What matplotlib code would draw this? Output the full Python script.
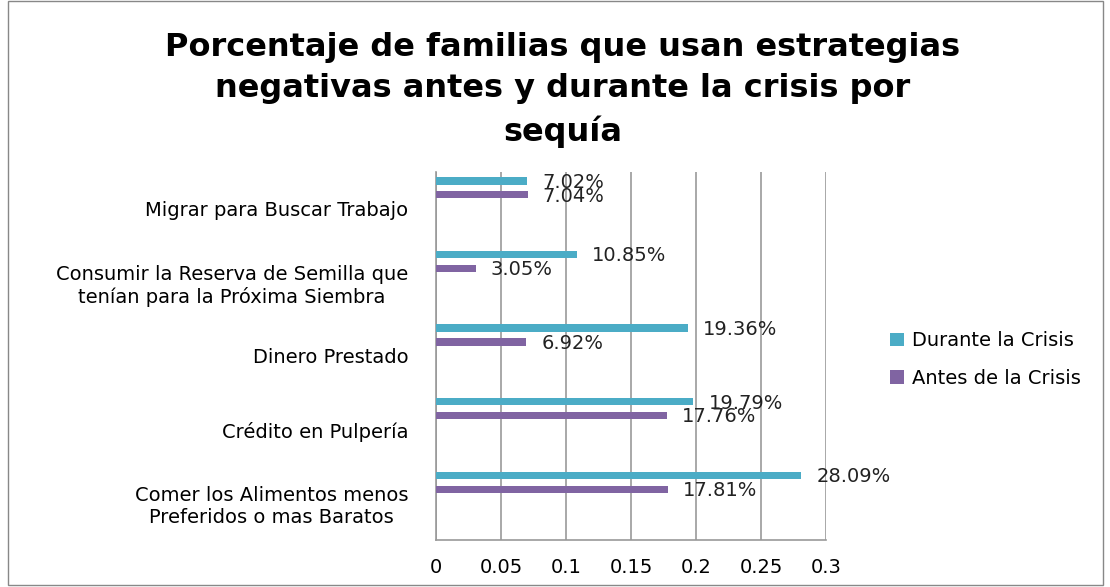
import matplotlib.pyplot as plt
import matplotlib.patches as mpatches
import numpy as np

# data (bottom to top)
categories = [
    "Comer los Alimentos menos\nPreferidos o mas Baratos",
    "Crédito en Pulpería",
    "Dinero Prestado",
    "Consumir la Reserva de Semilla que\ntenían para la Próxima Siembra",
    "Migrar para Buscar Trabajo",
]
durante = [0.2809, 0.1979, 0.1936, 0.1085, 0.0702]
antes = [0.1781, 0.1776, 0.0692, 0.0305, 0.0704]
series_names = ["Durante la Crisis", "Antes de la Crisis"]
x_ticks = [0, 0.05, 0.1, 0.15, 0.2, 0.25, 0.3]

col_durante = "#4BACC6"
col_antes = "#8064A2"

plt.rcParams["font.family"] = ["DejaVu Sans"]

fig = plt.figure(figsize=(11.10, 5.87), dpi=100)
ax = fig.add_axes([0.3928, 0.0801, 0.3514, 0.6269])

pos = np.arange(len(categories))
bh = 0.1
ax.barh(pos + 0.38, durante, height=bh, color=col_durante, label=series_names[0], zorder=3)
ax.barh(pos + 0.19, antes, height=bh, color=col_antes, label=series_names[1], zorder=3)

# value labels
for y, v in zip(pos + 0.38, durante):
    ax.annotate(f"{v*100:.2f}%", (v, y), xytext=(11, -1), textcoords="offset points",
                ha="left", va="center", fontsize=14, color="#222222", zorder=4)
for y, v in zip(pos + 0.19, antes):
    ax.annotate(f"{v*100:.2f}%", (v, y), xytext=(11, -1), textcoords="offset points",
                ha="left", va="center", fontsize=14, color="#222222", zorder=4)

ax.set_xlim(0, 0.3)
ax.set_ylim(-0.5, len(categories) - 0.5)
ax.set_xticks(x_ticks)
ax.set_xticklabels([f"{t:g}" for t in x_ticks], fontsize=14)
ax.set_yticks(pos)
ax.set_yticklabels(categories, fontsize=14, multialignment="center")
ax.tick_params(axis="x", length=0, pad=13)
ax.tick_params(axis="y", length=0, pad=20)
ax.xaxis.grid(True, color="#999999", linewidth=1.2, zorder=0)
for s in ["top", "right"]:
    ax.spines[s].set_visible(False)
for s in ["left", "bottom"]:
    ax.spines[s].set_color("#999999")
    ax.spines[s].set_linewidth(1.2)

leg = ax.legend(loc="center left", bbox_to_anchor=(1.12, 0.49), frameon=False,
                fontsize=14, handlelength=0.7, handleheight=0.7, handletextpad=0.4,
                labelspacing=0.95)

fig.text(0.507, 0.946, "Porcentaje de familias que usan estrategias\nnegativas antes y durante la crisis por\nsequía",
         ha="center", va="top", fontsize=23, fontweight="bold", linespacing=1.45)

fig.patches.append(mpatches.Rectangle((0.007, 0.003), 0.987, 0.995, transform=fig.transFigure,
                                      fill=False, edgecolor="#888888", linewidth=1))

fig.savefig("out.png", dpi=100)
